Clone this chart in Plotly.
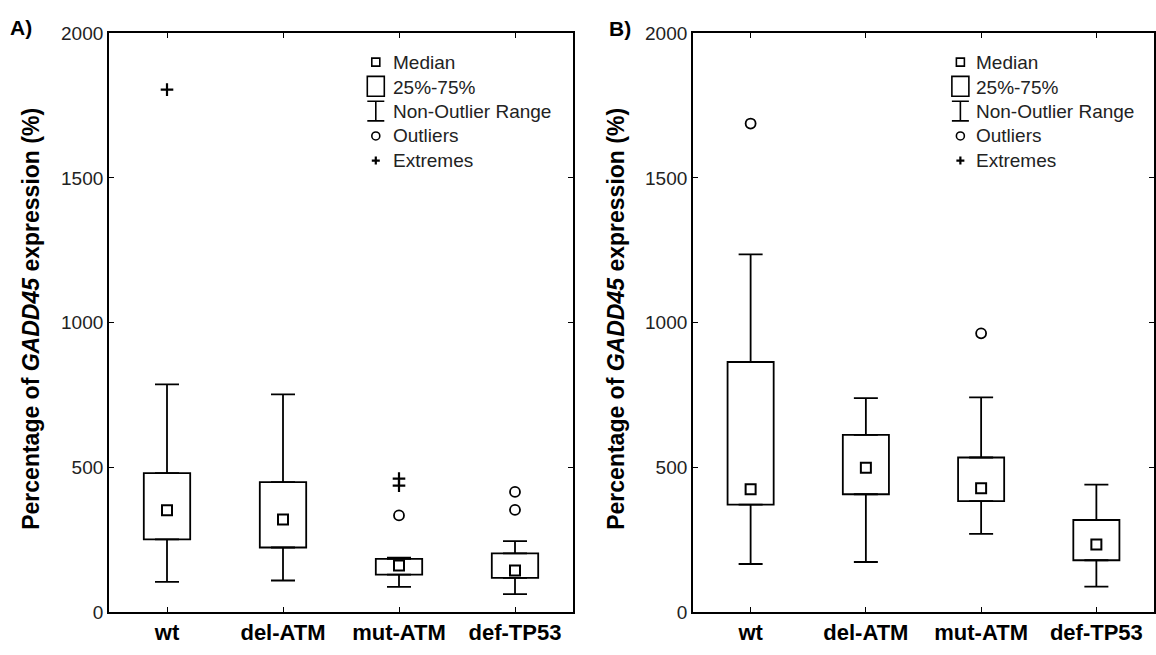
import plotly.graph_objects as go

W, H = 1156, 655

categories = ["wt", "del-ATM", "mut-ATM", "def-TP53"]

# Panel A statistics
a_lower = [104, 109, 87, 62]
a_q1 = [251, 223, 129, 118]
a_median = [352, 320, 161, 144]
a_q3 = [480, 449, 184, 203]
a_upper = [787, 752, 188, 245]
a_outlier_x = ["mut-ATM", "def-TP53", "def-TP53"]
a_outlier_y = [334, 415, 353]
a_extreme_x = ["wt", "mut-ATM", "mut-ATM"]
a_extreme_y = [1805, 461, 437]

# Panel B statistics
b_lower = [166, 173, 270, 88]
b_q1 = [371, 407, 383, 179]
b_median = [424, 499, 428, 233]
b_q3 = [864, 612, 534, 318]
b_upper = [1236, 739, 742, 440]
b_outlier_x = ["wt", "mut-ATM"]
b_outlier_y = [1688, 963]
b_extreme_x = []
b_extreme_y = []

y_ticks = [0, 500, 1000, 1500, 2000]
legend_labels = ["Median", "25%-75%", "Non-Outlier Range", "Outliers", "Extremes"]

FONT = "Arial, Liberation Sans, sans-serif"
LW = 1.8


def fx(px):
    return px / W


def fy(py):
    return 1 - py / H


fig = go.Figure()


def add_panel(xa, ya, lower, q1, med, q3, upper, ox, oy, ex, ey):
    fig.add_trace(go.Bar(
        x=categories, y=[b - a for a, b in zip(q1, q3)], base=q1,
        width=0.4, marker=dict(color="white", line=dict(color="black", width=LW)),
        xaxis=xa, yaxis=ya, showlegend=False, hoverinfo="skip"))
    inv = dict(size=1, color="rgba(0,0,0,0)")
    fig.add_trace(go.Scatter(
        x=categories, y=q3, mode="markers", marker=inv,
        error_y=dict(type="data", symmetric=False,
                     array=[u - t for u, t in zip(upper, q3)], arrayminus=[0] * 4,
                     width=12, thickness=LW, color="black"),
        xaxis=xa, yaxis=ya, showlegend=False, hoverinfo="skip"))
    fig.add_trace(go.Scatter(
        x=categories, y=q1, mode="markers", marker=inv,
        error_y=dict(type="data", symmetric=False,
                     array=[0] * 4, arrayminus=[b - l for b, l in zip(q1, lower)],
                     width=12, thickness=LW, color="black"),
        xaxis=xa, yaxis=ya, showlegend=False, hoverinfo="skip"))
    fig.add_trace(go.Scatter(
        x=categories, y=med, mode="markers",
        marker=dict(symbol="square-open", size=10, color="black", line=dict(width=2)),
        xaxis=xa, yaxis=ya, showlegend=False))
    if ox:
        fig.add_trace(go.Scatter(
            x=ox, y=oy, mode="markers",
            marker=dict(symbol="circle-open", size=10, color="black", line=dict(width=1.8)),
            xaxis=xa, yaxis=ya, showlegend=False))
    if ex:
        fig.add_trace(go.Scatter(
            x=ex, y=ey, mode="markers",
            marker=dict(symbol="cross-thin-open", size=9, color="black", line=dict(width=2.2)),
            xaxis=xa, yaxis=ya, showlegend=False))


add_panel("x", "y", a_lower, a_q1, a_median, a_q3, a_upper,
          a_outlier_x, a_outlier_y, a_extreme_x, a_extreme_y)
add_panel("x2", "y2", b_lower, b_q1, b_median, b_q3, b_upper,
          b_outlier_x, b_outlier_y, b_extreme_x, b_extreme_y)

xa_common = dict(type="category", categoryorder="array", categoryarray=categories,
                 range=[-0.5, 3.5], showline=True, linecolor="black", linewidth=LW,
                 mirror="allticks", ticks="inside", ticklen=5, tickcolor="black",
                 tickwidth=1.2, showgrid=False, zeroline=False,
                 tickfont=dict(family=FONT, size=22, color="black", weight="bold"))
ya_common = dict(range=[0, 2000], tickvals=y_ticks, showline=True, linecolor="black",
                 linewidth=LW, mirror="allticks", ticks="inside", ticklen=5,
                 tickcolor="black", tickwidth=1.2, showgrid=False, zeroline=False,
                 tickfont=dict(family=FONT, size=19, color="#222"))

ydom = [fy(622), fy(24)]
fig.update_layout(
    width=W, height=H, margin=dict(l=0, r=0, t=0, b=0),
    plot_bgcolor="white", paper_bgcolor="white", barmode="overlay",
    xaxis=dict(domain=[fx(109), fx(573)], anchor="y", **xa_common),
    yaxis=dict(domain=ydom, anchor="x", **ya_common),
    xaxis2=dict(domain=[fx(693), fx(1154)], anchor="y2", **xa_common),
    yaxis2=dict(domain=ydom, anchor="x2", **ya_common),
)

title = "Percentage of <i>GADD45</i> expression (%)"
# legend rows (value units) and column positions (category index units)
leg_text_y = [1900, 1814, 1728, 1645, 1560]
annotations = []
shapes = []
bold = dict(family=FONT, size=23, color="black", weight="bold")
for xr, yr, tx, ty, panel_label, lx, ly, sym_c, txt_c in [
        ("x", "y", 31, 319, "A)", 21, 18, 1.80, 1.93),
        ("x2", "y2", 616, 319, "B)", 620, 19, 1.82, 1.94)]:
    annotations.append(dict(x=fx(tx), y=fy(ty), xref="paper", yref="paper", text=title,
                            textangle=-90, showarrow=False, xanchor="center",
                            yanchor="middle", font=bold))
    annotations.append(dict(x=fx(lx), y=fy(ly), xref="paper", yref="paper",
                            text=panel_label, showarrow=False, xanchor="center",
                            yanchor="middle",
                            font=dict(family=FONT, size=21, color="black", weight="bold")))
    for lab, yy in zip(legend_labels, leg_text_y):
        annotations.append(dict(x=txt_c, y=yy, xref=xr, yref=yr, text=lab,
                                xanchor="left", yanchor="middle", showarrow=False,
                                font=dict(family=FONT, size=19, color="#222")))
    line = dict(color="black", width=1.6)
    px_common = dict(xref=xr, yref=yr, xsizemode="pixel", xanchor=sym_c)
    # median square (pixel sized)
    shapes.append(dict(type="rect", xref=xr, yref=yr, xsizemode="pixel", ysizemode="pixel",
                       xanchor=sym_c, yanchor=leg_text_y[0],
                       x0=-4, x1=4, y0=-4, y1=4, line=line))
    # box
    shapes.append(dict(type="rect", x0=-8.5, x1=8.5, y0=1782, y1=1851, line=line,
                       **px_common))
    # I-beam
    shapes.append(dict(type="line", x0=0, x1=0, y0=1697, y1=1765, line=line, **px_common))
    for yy in (1697, 1765):
        shapes.append(dict(type="line", x0=-8.5, x1=8.5, y0=yy, y1=yy, line=line,
                           **px_common))
    # outlier circle
    shapes.append(dict(type="circle", xref=xr, yref=yr, xsizemode="pixel", ysizemode="pixel",
                       xanchor=sym_c, yanchor=leg_text_y[3],
                       x0=-4, x1=4, y0=-4, y1=4, line=line))
    # extreme plus
    thick = dict(color="black", width=2.2)
    shapes.append(dict(type="line", xref=xr, yref=yr, xsizemode="pixel", ysizemode="pixel",
                       xanchor=sym_c, yanchor=leg_text_y[4],
                       x0=-4, x1=4, y0=0, y1=0, line=thick))
    shapes.append(dict(type="line", xref=xr, yref=yr, xsizemode="pixel", ysizemode="pixel",
                       xanchor=sym_c, yanchor=leg_text_y[4],
                       x0=0, x1=0, y0=-4, y1=4, line=thick))

fig.update_layout(annotations=annotations, shapes=shapes)
fig.write_html("out.html", config={"displayModeBar": False},
               post_script="document.body.style.margin='0';")
